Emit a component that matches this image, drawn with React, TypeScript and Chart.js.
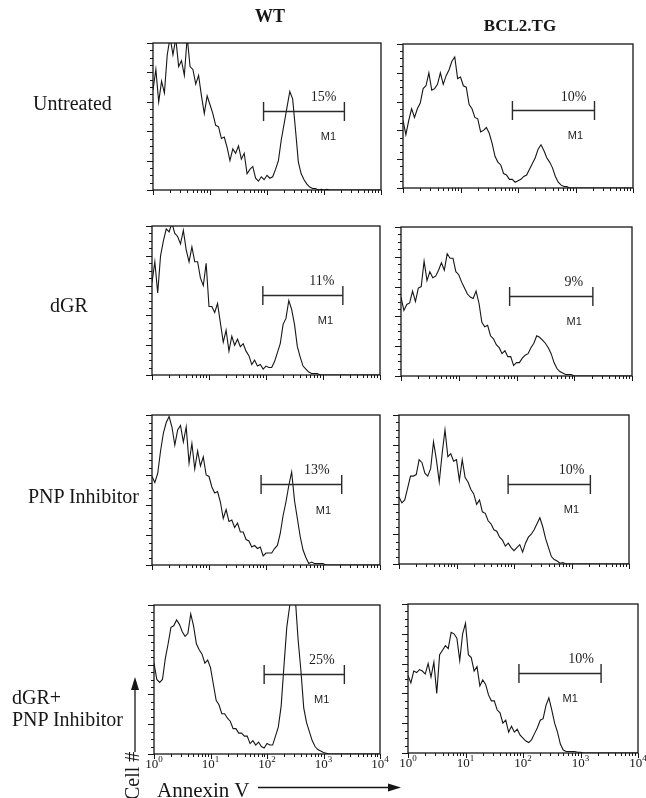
import React, { useEffect, useRef } from 'react';
import { Chart, registerables } from 'chart.js';

Chart.register(...registerables);

// ---------- DATA ----------
// channel positions: 81 log-spaced channels, 20 per decade, 10^0 .. 10^4
const channelsPerDecade = 20;
const channels: number[] = Array.from({ length: 81 }, (_, i) => Math.pow(10, i / channelsPerDecade));

const columnTitles = ['WT', 'BCL2.TG'];
const rowLabels = [['Untreated'], ['dGR'], ['PNP Inhibitor'], ['dGR+', 'PNP Inhibitor']];

// WT histograms (cell counts, % of full scale)
const wtUntreated = [
  68, 82, 60, 74, 66, 92, 104, 92, 103, 84,
  88, 78, 104, 84, 82, 72, 78, 64, 52, 64,
  58, 52, 44, 43, 35, 36, 29, 20, 28, 25,
  30, 21, 25, 11, 14, 16, 8, 6, 9, 7,
  10, 8, 9, 14, 20, 34, 45, 56, 67, 62,
  41, 19, 11, 7, 4, 2, 1, 1, 0, 0.5,
  0, 0.5, 0, 0, 0, 0, 0, 0, 0, 0,
  0, 0, 0, 0, 0, 0, 0, 0, 0, 0,
  0,
];
const wtDGR = [
  62, 76, 55, 80, 90, 98, 96, 102, 95, 93,
  88, 97, 84, 76, 86, 76, 76, 65, 60, 75,
  46, 46, 42, 48, 35, 22, 30, 16, 26, 20,
  24, 19, 21, 16, 13, 7, 10, 6, 7, 4,
  6, 5, 5, 9, 15, 21, 34, 38, 50, 44,
  34, 19, 12, 6, 4, 2, 1, 1, 1, 0,
  0, 0, 0, 0, 0, 0, 0, 0, 0, 0,
  0, 0, 0, 0, 0, 0, 0, 0, 0, 0,
  0,
];
const wtPNP = [
  59, 55, 61, 76, 88, 95, 99, 92, 80, 90,
  93, 82, 92, 68, 81, 64, 76, 66, 72, 60,
  59, 52, 48, 49, 42, 31, 37, 29, 30, 25,
  28, 22, 22, 17, 16, 12, 13, 11, 12, 6,
  8, 8, 8, 11, 13, 21, 33, 42, 53, 62,
  43, 31, 19, 10, 5, 1, 2, 1, 1, 1,
  1, 0, 0, 0, 0, 0, 0, 0, 0, 0,
  0, 0, 0, 0, 0, 0, 0, 0, 0, 0,
  0,
];
const wtDGRPNP = [
  61, 50, 48, 50, 64, 74, 85, 86, 90, 87,
  82, 79, 81, 94, 86, 74, 70, 67, 61, 63,
  58, 47, 36, 33, 27, 27, 24, 22, 17, 17,
  14, 14, 12, 12, 7, 9, 6, 8, 5, 4,
  7, 6, 6, 12, 18, 32, 59, 85, 99, 112,
  105, 77, 56, 31, 21, 15, 9, 5, 3, 2,
  1, 0.5, 0, 0, 0, 0, 0, 0, 0, 0,
  0, 0, 0, 0, 0, 0, 0, 0, 0, 0,
  0,
];

// BCL2.TG histograms
const bcl2Untreated = [
  47, 37, 47, 55, 49, 55, 59, 69, 71, 80,
  68, 69, 72, 80, 72, 78, 82, 88, 91, 76,
  77, 71, 70, 58, 55, 49, 48, 39, 40, 42,
  38, 31, 22, 18, 16, 10, 9, 6, 6, 4,
  5, 6, 8, 9, 13, 17, 21, 27, 30, 26,
  21, 18, 14, 8, 4, 2, 1, 1, 0, 0,
  0, 0, 0, 0, 0, 0, 0, 0, 0, 0,
  0, 0, 0, 0, 0, 0, 0, 0, 0, 0,
  0,
];
const bcl2DGR = [
  53, 44, 48, 49, 57, 50, 59, 60, 77, 64,
  70, 66, 67, 71, 76, 71, 82, 79, 79, 70,
  68, 63, 59, 55, 53, 52, 57, 49, 36, 33,
  34, 27, 25, 21, 19, 15, 17, 13, 13, 7,
  9, 9, 12, 14, 15, 19, 22, 27, 26, 24,
  22, 19, 15, 9, 5, 3, 2, 1, 1, 1,
  0, 0, 0, 0, 0, 0, 0, 0, 0, 0,
  0, 0, 0, 0, 0, 0, 0, 0, 0, 0,
  0,
];
const bcl2PNP = [
  45, 41, 43, 51, 59, 59, 60, 70, 68, 61,
  59, 64, 82, 70, 55, 74, 90, 72, 74, 69,
  70, 56, 70, 58, 55, 50, 47, 40, 43, 35,
  34, 29, 27, 23, 22, 18, 16, 12, 14, 11,
  9, 11, 13, 8, 14, 18, 20, 23, 27, 31,
  25, 17, 11, 5, 3, 2, 0.5, 1, 0, 0,
  0, 0, 0, 0, 0, 0, 0, 0, 0, 0,
  0, 0, 0, 0, 0, 0, 0, 0, 0, 0,
  0,
];
const bcl2DGRPNP = [
  52, 47, 55, 54, 56, 55, 53, 60, 51, 61,
  40, 66, 69, 72, 70, 81, 80, 77, 62, 80,
  87, 66, 64, 55, 58, 45, 49, 46, 39, 35,
  35, 29, 27, 20, 22, 14, 18, 14, 16, 12,
  10, 8, 7, 9, 13, 17, 22, 23, 32, 37,
  29, 20, 14, 6, 2, 1, 1, 1, 1, 0.5,
  0.5, 0, 0, 0, 0, 0, 0, 0, 0, 0,
  0, 0, 0, 0, 0, 0, 0, 0, 0, 0,
  0,
];

// M1 gates (Annexin V range) and percentages
const wtPercents = ['15%', '11%', '13%', '25%'];
const bcl2Percents = ['10%', '9%', '10%', '10%'];
const wtGates = [[87, 2280], [88, 2230], [82, 2130], [89, 2340]];
const bcl2Gates = [[80, 2140], [76, 2100], [79, 2130], [85, 2280]];
const gateLabel = 'M1';

// axis ticks
const xTickValues = [
  1, 2, 3, 4, 5, 6, 7, 8, 9,
  10, 20, 30, 40, 50, 60, 70, 80, 90,
  100, 200, 300, 400, 500, 600, 700, 800, 900,
  1000, 2000, 3000, 4000, 5000, 6000, 7000, 8000, 9000,
  10000,
];
const xMajorTicks = [1, 10, 100, 1000, 10000];
const xTickExponents = ['0', '1', '2', '3', '4'];
const yTickValues = [0, 5, 10, 15, 20, 25, 30, 35, 40, 45, 50, 55, 60, 65, 70, 75, 80, 85, 90, 95, 100];
const yMajorTicks = [0, 20, 40, 60, 80, 100];

const yLabel = 'Cell #';
const xLabel = 'Annexin V';

// ---------- LAYOUT ----------
type PanelSpec = {
  data: number[]; pct: string; gate: number[];
  left: number; top: number; width: number; height: number;
  axisLabels: boolean; pctX: number; m1X: number;
};

const panels: PanelSpec[] = [
  { data: wtUntreated, pct: wtPercents[0], gate: wtGates[0], left: 153, top: 43, width: 228, height: 147, axisLabels: false, pctX: 980, m1X: 1200 },
  { data: bcl2Untreated, pct: bcl2Percents[0], gate: bcl2Gates[0], left: 403, top: 44, width: 230, height: 144, axisLabels: false, pctX: 930, m1X: 1000 },
  { data: wtDGR, pct: wtPercents[1], gate: wtGates[1], left: 152, top: 226, width: 228, height: 149, axisLabels: false, pctX: 955, m1X: 1100 },
  { data: bcl2DGR, pct: bcl2Percents[1], gate: bcl2Gates[1], left: 401, top: 227, width: 231, height: 149, axisLabels: false, pctX: 980, m1X: 1000 },
  { data: wtPNP, pct: wtPercents[2], gate: wtGates[2], left: 152, top: 415, width: 228, height: 150, axisLabels: false, pctX: 780, m1X: 1020 },
  { data: bcl2PNP, pct: bcl2Percents[2], gate: bcl2Gates[2], left: 399, top: 415, width: 230, height: 149, axisLabels: false, pctX: 1000, m1X: 1000 },
  { data: wtDGRPNP, pct: wtPercents[3], gate: wtGates[3], left: 154, top: 605, width: 226, height: 149, axisLabels: true, pctX: 930, m1X: 930 },
  { data: bcl2DGRPNP, pct: bcl2Percents[3], gate: bcl2Gates[3], left: 408, top: 604, width: 230, height: 149, axisLabels: true, pctX: 1020, m1X: 660 },
];

const INK = '#161616';
const SERIF = '"Liberation Serif", "Times New Roman", "DejaVu Serif", serif';
const SANS = '"Liberation Sans", Arial, sans-serif';

function makeDecor(p: PanelSpec) {
  return {
    id: 'panelDecor',
    afterDatasetsDraw(chart: any) {
      const { ctx, chartArea: a, scales } = chart;
      const x = scales.x;
      const y = scales.y;
      ctx.save();
      ctx.strokeStyle = INK;
      ctx.fillStyle = INK;
      // frame
      ctx.lineWidth = 1.3;
      ctx.strokeRect(a.left, a.top, a.right - a.left, a.bottom - a.top);
      // x ticks
      ctx.lineWidth = 1;
      for (const v of xTickValues) {
        const px = Math.round(x.getPixelForValue(v)) + 0.5;
        const len = xMajorTicks.includes(v) ? 5 : 3;
        ctx.beginPath();
        ctx.moveTo(px, a.bottom);
        ctx.lineTo(px, a.bottom + len);
        ctx.stroke();
      }
      // y ticks
      for (const v of yTickValues) {
        const py = Math.round(y.getPixelForValue(v)) + 0.5;
        const len = yMajorTicks.includes(v) ? 6 : 3;
        ctx.beginPath();
        ctx.moveTo(a.left, py);
        ctx.lineTo(a.left - len, py);
        ctx.stroke();
      }
      // x tick labels
      if (p.axisLabels) {
        xMajorTicks.forEach((v, k) => {
          const px = x.getPixelForValue(v);
          ctx.font = `13px ${SERIF}`;
          const wBase = ctx.measureText('10').width;
          ctx.font = `9px ${SERIF}`;
          const wExp = ctx.measureText(xTickExponents[k]).width;
          const start = px - (wBase + wExp) / 2;
          ctx.textAlign = 'left';
          ctx.textBaseline = 'alphabetic';
          ctx.font = `13px ${SERIF}`;
          ctx.fillText('10', start, a.bottom + 14);
          ctx.font = `9px ${SERIF}`;
          ctx.fillText(xTickExponents[k], start + wBase, a.bottom + 8);
        });
      }
      // M1 gate bracket
      const gx1 = x.getPixelForValue(p.gate[0]);
      const gx2 = x.getPixelForValue(p.gate[1]);
      const gy = Math.round(y.getPixelForValue(54)) + 0.5;
      const cap = 9.5;
      ctx.lineWidth = 1.4;
      ctx.strokeStyle = '#2a2a2a';
      ctx.beginPath();
      ctx.moveTo(gx1, gy); ctx.lineTo(gx2, gy);
      ctx.moveTo(gx1, gy - cap); ctx.lineTo(gx1, gy + cap);
      ctx.moveTo(gx2, gy - cap); ctx.lineTo(gx2, gy + cap);
      ctx.stroke();
      // labels
      ctx.textAlign = 'center';
      ctx.textBaseline = 'middle';
      ctx.fillStyle = '#1e1e1e';
      ctx.font = `14px ${SERIF}`;
      ctx.fillText(p.pct, x.getPixelForValue(p.pctX), y.getPixelForValue(63));
      ctx.font = `11px ${SANS}`;
      ctx.fillText(gateLabel, x.getPixelForValue(p.m1X), y.getPixelForValue(36));
      ctx.restore();
    },
  };
}

function Panel({ p }: { p: PanelSpec }) {
  const ref = useRef<HTMLCanvasElement | null>(null);
  const padL = 12, padR = 12, padT = 4, padB = p.axisLabels ? 22 : 9;
  useEffect(() => {
    if (!ref.current) return;
    const chart = new Chart(ref.current, {
      type: 'line',
      data: {
        datasets: [{
          data: channels.map((c, i) => ({ x: c, y: p.data[i] })),
          borderColor: INK,
          borderWidth: 1.1,
          pointRadius: 0,
          tension: 0,
          fill: false,
        }],
      },
      options: {
        animation: false,
        responsive: false,
        maintainAspectRatio: false,
        events: [],
        layout: { padding: { left: padL, right: padR, top: padT, bottom: padB } },
        plugins: { legend: { display: false }, tooltip: { enabled: false } },
        scales: {
          x: { type: 'logarithmic', min: 1, max: 10000, display: false },
          y: { type: 'linear', min: 0, max: 100, display: false },
        },
      } as any,
      plugins: [makeDecor(p)],
    });
    return () => chart.destroy();
  }, []);
  const w = p.width + padL + padR;
  const h = p.height + padT + padB;
  return (
    <canvas
      ref={ref}
      width={w}
      height={h}
      style={{ position: 'absolute', left: p.left - padL, top: p.top - padT, width: w, height: h }}
    />
  );
}

export default function App() {
  return (
    <div style={{ position: 'absolute', left: 0, top: 0, width: 646, height: 798, overflow: 'hidden', background: '#fff' }}>
      {panels.map((p, i) => <Panel key={i} p={p} />)}
      <svg width={646} height={798} style={{ position: 'absolute', left: 0, top: 0, pointerEvents: 'none' }}>
        <g fill={INK} fontFamily={SERIF}>
          <text x={270} y={22} fontSize={18} fontWeight="bold" textAnchor="middle">{columnTitles[0]}</text>
          <text x={520} y={31} fontSize={17} fontWeight="bold" textAnchor="middle">{columnTitles[1]}</text>
          <text x={33} y={110} fontSize={20}>{rowLabels[0][0]}</text>
          <text x={50} y={312} fontSize={20}>{rowLabels[1][0]}</text>
          <text x={28} y={503} fontSize={20}>{rowLabels[2][0]}</text>
          <text x={12} y={704} fontSize={20}>{rowLabels[3][0]}</text>
          <text x={12} y={726} fontSize={20}>{rowLabels[3][1]}</text>
          <text x={157} y={797} fontSize={21}>{xLabel}</text>
          <text transform="translate(139,800) rotate(-90)" fontSize={20}>{yLabel}</text>
        </g>
        <line x1={135} y1={752} x2={135} y2={688} stroke={INK} strokeWidth={1.3} />
        <polygon points="135,677 131,690 139,690" fill={INK} />
        <line x1={258} y1={787.5} x2={390} y2={787.5} stroke={INK} strokeWidth={1.3} />
        <polygon points="401,787.5 388,783.5 388,791.5" fill={INK} />
      </svg>
    </div>
  );
}
